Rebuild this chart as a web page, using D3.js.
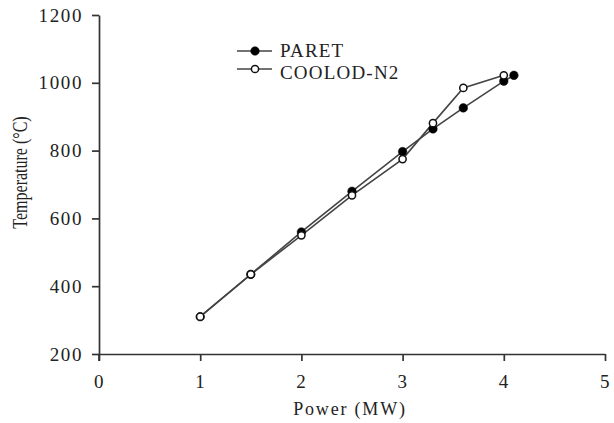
<!DOCTYPE html>
<html>
<head>
<meta charset="utf-8">
<script src="https://cdnjs.cloudflare.com/ajax/libs/d3/7.8.5/d3.min.js"></script>
<style>
  body { margin: 0; background: #fff; }
  svg text { font-family: "Liberation Serif", "DejaVu Serif", serif; fill: #222; }
</style>
</head>
<body>
<script>
const paretPower = [1, 1.5, 2, 2.5, 3, 3.3, 3.6, 4, 4.1]
const paretTemp = [310, 435, 560, 680, 797, 864, 926, 1005, 1022]
const coolodPower = [1, 1.5, 2, 2.5, 3, 3.3, 3.6, 4]
const coolodTemp = [310, 435, 550, 668, 775, 881, 985, 1022]
const xTicks = [0, 1, 2, 3, 4, 5]
const yTicks = [200, 400, 600, 800, 1000, 1200]

const width = 614, height = 423
const margin = { top: 15, right: 9, bottom: 69, left: 99 }

const svg = d3.select('body').append('svg')
  .attr('width', width)
  .attr('height', height)

const x = d3.scaleLinear().domain([0, 5]).range([margin.left, width - margin.right])
const y = d3.scaleLinear().domain([200, 1200]).range([height - margin.bottom, margin.top])

const axisColor = '#333'
const fontSize = '19px'
const spacing = '1.6px'

// axes
const xAxis = svg.append('g')
  .attr('transform', `translate(0,${y(200)})`)
  .call(d3.axisBottom(x).tickValues(xTicks).tickFormat(d3.format('d'))
    .tickSize(7).tickPadding(14).tickSizeOuter(0))
const yAxis = svg.append('g')
  .attr('transform', `translate(${x(0)},0)`)
  .call(d3.axisLeft(y).tickValues(yTicks).tickFormat(d3.format('d'))
    .tickSize(7).tickPadding(9).tickSizeOuter(0))

;[xAxis, yAxis].forEach(g => {
  g.attr('font-family', null).attr('font-size', null)
  g.select('.domain').attr('stroke', axisColor).attr('stroke-width', 1.7)
  g.selectAll('.tick line').attr('stroke', axisColor).attr('stroke-width', 1.7)
  g.selectAll('.tick text')
    .style('font-size', fontSize)
    .style('letter-spacing', spacing)
    .attr('fill', '#222')
})
// y axis continues below the x axis, like a tick at 0
svg.append('line')
  .attr('x1', x(0)).attr('x2', x(0))
  .attr('y1', y(200)).attr('y2', y(200) + 7)
  .attr('stroke', axisColor).attr('stroke-width', 1.7)

// axis titles
svg.append('text')
  .attr('x', (x(0) + x(5)) / 2 - 2)
  .attr('y', 415)
  .attr('text-anchor', 'middle')
  .style('font-size', '18px')
  .style('letter-spacing', '1.8px')
  .text('Power (MW)')

svg.append('text')
  .attr('transform', `translate(27,${(y(200) + y(1200)) / 2 - 12}) rotate(-90) scale(1,1.25)`)
  .attr('text-anchor', 'middle')
  .style('font-size', '16px')
  .text('Temperature (°C)')

const line = d3.line().x(d => x(d[0])).y(d => y(d[1]))

const series = [
  { name: 'PARET', power: paretPower, temp: paretTemp, fill: '#000' },
  { name: 'COOLOD-N2', power: coolodPower, temp: coolodTemp, fill: '#fff' },
]

const lineColor = '#444'

series.forEach(s => {
  const pts = s.power.map((p, i) => [p, s.temp[i]])
  svg.append('path')
    .attr('d', line(pts))
    .attr('fill', 'none')
    .attr('stroke', lineColor)
    .attr('stroke-width', 1.6)
})

series.forEach(s => {
  const pts = s.power.map((p, i) => [p, s.temp[i]])
  svg.append('g').selectAll('circle')
    .data(pts)
    .join('circle')
    .attr('cx', d => x(d[0]))
    .attr('cy', d => y(d[1]))
    .attr('r', s.fill === '#000' ? 4.3 : 3.6)
    .attr('fill', s.fill)
    .attr('stroke', '#111')
    .attr('stroke-width', s.fill === '#000' ? 0.5 : 1.5)
})

// legend
const legend = svg.append('g')
series.forEach((s, i) => {
  const ly = 51 + i * 18
  legend.append('line')
    .attr('x1', 237).attr('x2', 272)
    .attr('y1', ly).attr('y2', ly)
    .attr('stroke', lineColor).attr('stroke-width', 1.6)
  legend.append('circle')
    .attr('cx', 255).attr('cy', ly)
    .attr('r', s.fill === '#000' ? 4.3 : 3.6)
    .attr('fill', s.fill)
    .attr('stroke', '#111')
    .attr('stroke-width', s.fill === '#000' ? 0.5 : 1.5)
  legend.append('text')
    .attr('x', 280).attr('y', 57 + i * 22)
    .style('font-size', '19px')
    .style('letter-spacing', '1.2px')
    .text(s.name)
})
</script>
</body>
</html>
